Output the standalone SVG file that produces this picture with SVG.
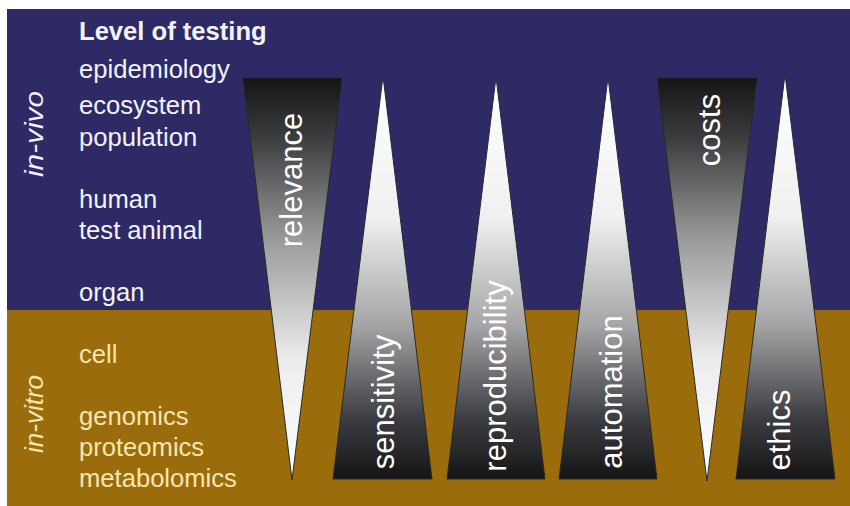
<svg xmlns="http://www.w3.org/2000/svg" width="850" height="506" viewBox="0 0 850 506">
  <defs>
    <linearGradient id="gUp" x1="0" y1="0" x2="0" y2="1">
      <stop offset="0" stop-color="#ffffff"/>
      <stop offset="0.35" stop-color="#f0f0f0"/>
      <stop offset="0.62" stop-color="#a4a4a6"/>
      <stop offset="0.85" stop-color="#3c3d42"/>
      <stop offset="1" stop-color="#151515"/>
    </linearGradient>
    <linearGradient id="gDown" x1="0" y1="0" x2="0" y2="1">
      <stop offset="0" stop-color="#151515"/>
      <stop offset="0.15" stop-color="#3c3d3f"/>
      <stop offset="0.4" stop-color="#9a9a9a"/>
      <stop offset="0.7" stop-color="#ececec"/>
      <stop offset="1" stop-color="#ffffff"/>
    </linearGradient>
    <style>
      .tri { stroke: #2a2a2a; stroke-width: 1; stroke-linejoin: miter; }
      .up { fill: url(#gUp); }
      .down { fill: url(#gDown); }
      .lvl { font-family: "Liberation Sans", Arial, sans-serif; font-size: 25.6px; }
      .vivo { fill: #f2f2f8; }
      .vitro { fill: #f5e6b0; }
      .head { font-weight: bold; }
      .side { font-family: "Liberation Sans", Arial, sans-serif; font-size: 26px; font-style: italic; text-anchor: middle; }
      .lab { font-family: "Liberation Sans", Arial, sans-serif; font-size: 31px; fill: #ffffff; text-anchor: middle; }
    </style>
  </defs>

  <rect x="0" y="0" width="850" height="506" fill="#ffffff"/>
  <g id="background">
    <rect x="7" y="9" width="843" height="301" fill="#2d2a66"/>
    <rect x="7" y="310" width="843" height="196" fill="#9a6c0b"/>
  </g>

  <g id="side-labels">
    <text class="side vivo" transform="translate(43,134) rotate(-90)" textLength="86" lengthAdjust="spacingAndGlyphs">in-vivo</text>
    <text class="side vitro" transform="translate(43,414) rotate(-90)" textLength="78" lengthAdjust="spacingAndGlyphs">in-vitro</text>
  </g>

  <g id="levels">
    <text class="lvl vivo head" x="79" y="40">Level of testing</text>
    <text class="lvl vivo" x="79" y="78">epidemiology</text>
    <text class="lvl vivo" x="79" y="114">ecosystem</text>
    <text class="lvl vivo" x="79" y="146">population</text>
    <text class="lvl vivo" x="79" y="208">human</text>
    <text class="lvl vivo" x="79" y="239">test animal</text>
    <text class="lvl vivo" x="79" y="301">organ</text>
    <text class="lvl vitro" x="79" y="363">cell</text>
    <text class="lvl vitro" x="79" y="425">genomics</text>
    <text class="lvl vitro" x="79" y="456">proteomics</text>
    <text class="lvl vitro" x="79" y="487">metabolomics</text>
  </g>

  <g id="relevance">
    <polygon class="tri down" points="243,78 342,78 292,480"/>
    <text class="lab" transform="translate(302,180) rotate(-90)">relevance</text>
  </g>
  <g id="sensitivity">
    <polygon class="tri up" points="383,76 432,479 333,479"/>
    <text class="lab" transform="translate(394,402) rotate(-90)">sensitivity</text>
  </g>
  <g id="reproducibility">
    <polygon class="tri up" points="496,77 545,479 447,479"/>
    <text class="lab" transform="translate(506,376) rotate(-90)">reproducibility</text>
  </g>
  <g id="automation">
    <polygon class="tri up" points="608,77 657,479 559,479"/>
    <text class="lab" transform="translate(622,392) rotate(-90)">automation</text>
  </g>
  <g id="costs">
    <polygon class="tri down" points="657,78 757,78 707,481"/>
    <text class="lab" transform="translate(720,130) rotate(-90)">costs</text>
  </g>
  <g id="ethics">
    <polygon class="tri up" points="785,74 835,479 736,479"/>
    <text class="lab" transform="translate(790,430) rotate(-90)">ethics</text>
  </g>

  <g id="connectors"></g>
</svg>
